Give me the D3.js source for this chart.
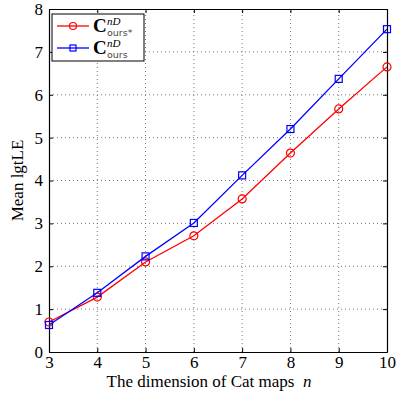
<!DOCTYPE html>
<html>
<head>
<meta charset="utf-8">
<script src="https://cdn.jsdelivr.net/npm/d3@7"></script>
<style>
  body { margin: 0; background: #fff; }
  svg text { font-family: "Liberation Serif", "DejaVu Serif", serif; }
</style>
</head>
<body>
<script>
var width = 396,
    height = 397,
    margin = { top: 9, right: 9, bottom: 45, left: 49 };

var dims = [3, 4, 5, 6, 7, 8, 9, 10];
var oursStar = [0.70, 1.28, 2.10, 2.71, 3.57, 4.64, 5.67, 6.65];
var ours = [0.63, 1.38, 2.23, 3.01, 4.12, 5.20, 6.37, 7.53];
var yTicks = [0, 1, 2, 3, 4, 5, 6, 7, 8];

var svg = d3.select("body").append("svg")
    .attr("width", width)
    .attr("height", height);

var x = d3.scaleLinear().domain([3, 10]).range([margin.left, width - margin.right]);
var y = d3.scaleLinear().domain([0, 8]).range([height - margin.bottom, margin.top]);

// dotted grid
svg.append("g").selectAll("line")
    .data(dims.slice(1, -1))
    .enter().append("line")
        .attr("x1", function(d) { return x(d); })
        .attr("x2", function(d) { return x(d); })
        .attr("y1", y(0))
        .attr("y2", y(8))
        .style("stroke", "#555")
        .style("stroke-width", 0.8)
        .style("stroke-dasharray", "1,3");

svg.append("g").selectAll("line")
    .data(yTicks.slice(1, -1))
    .enter().append("line")
        .attr("x1", x(3))
        .attr("x2", x(10))
        .attr("y1", function(d) { return y(d); })
        .attr("y2", function(d) { return y(d); })
        .style("stroke", "#555")
        .style("stroke-width", 0.8)
        .style("stroke-dasharray", "1,3");

// axes, ticks inward
var fmt = d3.format("d");
var xAxis = svg.append("g")
    .attr("transform", "translate(0," + y(0) + ")")
    .call(d3.axisBottom(x).tickValues(dims).tickFormat(fmt).tickSizeInner(-4).tickSizeOuter(0).tickPadding(4));
var xTop = svg.append("g")
    .attr("transform", "translate(0," + y(8) + ")")
    .call(d3.axisTop(x).tickValues(dims).tickSizeInner(-4).tickSizeOuter(0).tickFormat(""));
var yAxis = svg.append("g")
    .attr("transform", "translate(" + x(3) + ",0)")
    .call(d3.axisLeft(y).tickValues(yTicks).tickFormat(fmt).tickSizeInner(-4).tickSizeOuter(0).tickPadding(6));
var yRight = svg.append("g")
    .attr("transform", "translate(" + x(10) + ",0)")
    .call(d3.axisRight(y).tickValues(yTicks).tickSizeInner(-4).tickSizeOuter(0).tickFormat(""));

[xAxis, xTop, yAxis, yRight].forEach(function(g) {
    g.selectAll("path").style("stroke", "#000").style("stroke-width", 1.2);
    g.selectAll("line").style("stroke", "#000");
    g.selectAll("text")
        .style("font-family", "'Liberation Serif', serif")
        .style("font-size", "17px")
        .style("fill", "#000");
});

// axis labels
svg.append("text")
    .attr("x", (x(3) + x(10)) / 2 - 9)
    .attr("y", height - 10)
    .attr("text-anchor", "middle")
    .style("font-size", "17px")
    .style("white-space", "pre")
    .html('The dimension of Cat maps  <tspan font-style="italic">n</tspan>');

svg.append("text")
    .attr("transform", "translate(23," + (y(4)) + ") rotate(-90)")
    .attr("text-anchor", "middle")
    .style("font-size", "17px")
    .text("Mean lgtLE");

// series
var series = [
    { name: "ours*", values: oursStar, color: "#ff0000", marker: "circle" },
    { name: "ours", values: ours, color: "#0000ff", marker: "square" }
];

var line = d3.line()
    .x(function(d, i) { return x(dims[i]); })
    .y(function(d) { return y(d); });

series.forEach(function(s) {
    svg.append("path")
        .datum(s.values)
        .attr("d", line)
        .style("fill", "none")
        .style("stroke", s.color)
        .style("stroke-width", 1.3);

    var pts = svg.append("g").selectAll("g")
        .data(s.values)
        .enter().append("g")
            .attr("transform", function(d, i) { return "translate(" + x(dims[i]) + "," + y(d) + ")"; });
    if (s.marker === "circle") {
        pts.append("circle").attr("r", 4)
            .style("fill", "none").style("stroke", s.color).style("stroke-width", 1.2);
    } else {
        pts.append("rect").attr("x", -3.5).attr("y", -3.5).attr("width", 7).attr("height", 7)
            .style("fill", "none").style("stroke", s.color).style("stroke-width", 1.2);
    }
});

// legend
var legend = svg.append("g").attr("transform", "translate(52,14)");
legend.append("rect")
    .attr("width", 92).attr("height", 47)
    .style("fill", "#fff").style("stroke", "#000").style("stroke-width", 1);

series.forEach(function(s, i) {
    var ly = 12 + i * 22;
    legend.append("line")
        .attr("x1", 5).attr("x2", 37).attr("y1", ly).attr("y2", ly)
        .style("stroke", s.color).style("stroke-width", 1.3);
    if (s.marker === "circle") {
        legend.append("circle").attr("cx", 21).attr("cy", ly).attr("r", 3.5)
            .style("fill", "none").style("stroke", s.color).style("stroke-width", 1.2);
    } else {
        legend.append("rect").attr("x", 18).attr("y", ly - 3).attr("width", 6).attr("height", 6)
            .style("fill", "none").style("stroke", s.color).style("stroke-width", 1.2);
    }
    var t = legend.append("g").attr("transform", "translate(41," + (ly + 6) + ")");
    t.append("text").attr("x", 0).attr("y", 0)
        .style("font-size", "19px").style("font-weight", "bold").text("C");
    t.append("text").attr("x", 14).attr("y", -7)
        .style("font-size", "11px").style("font-style", "italic").text("nD");
    t.append("text").attr("x", 14).attr("y", 4)
        .style("font-family", "'DejaVu Sans', sans-serif")
        .style("font-size", "9.5px").style("fill", "#444").text(s.name);
});
</script>
</body>
</html>
